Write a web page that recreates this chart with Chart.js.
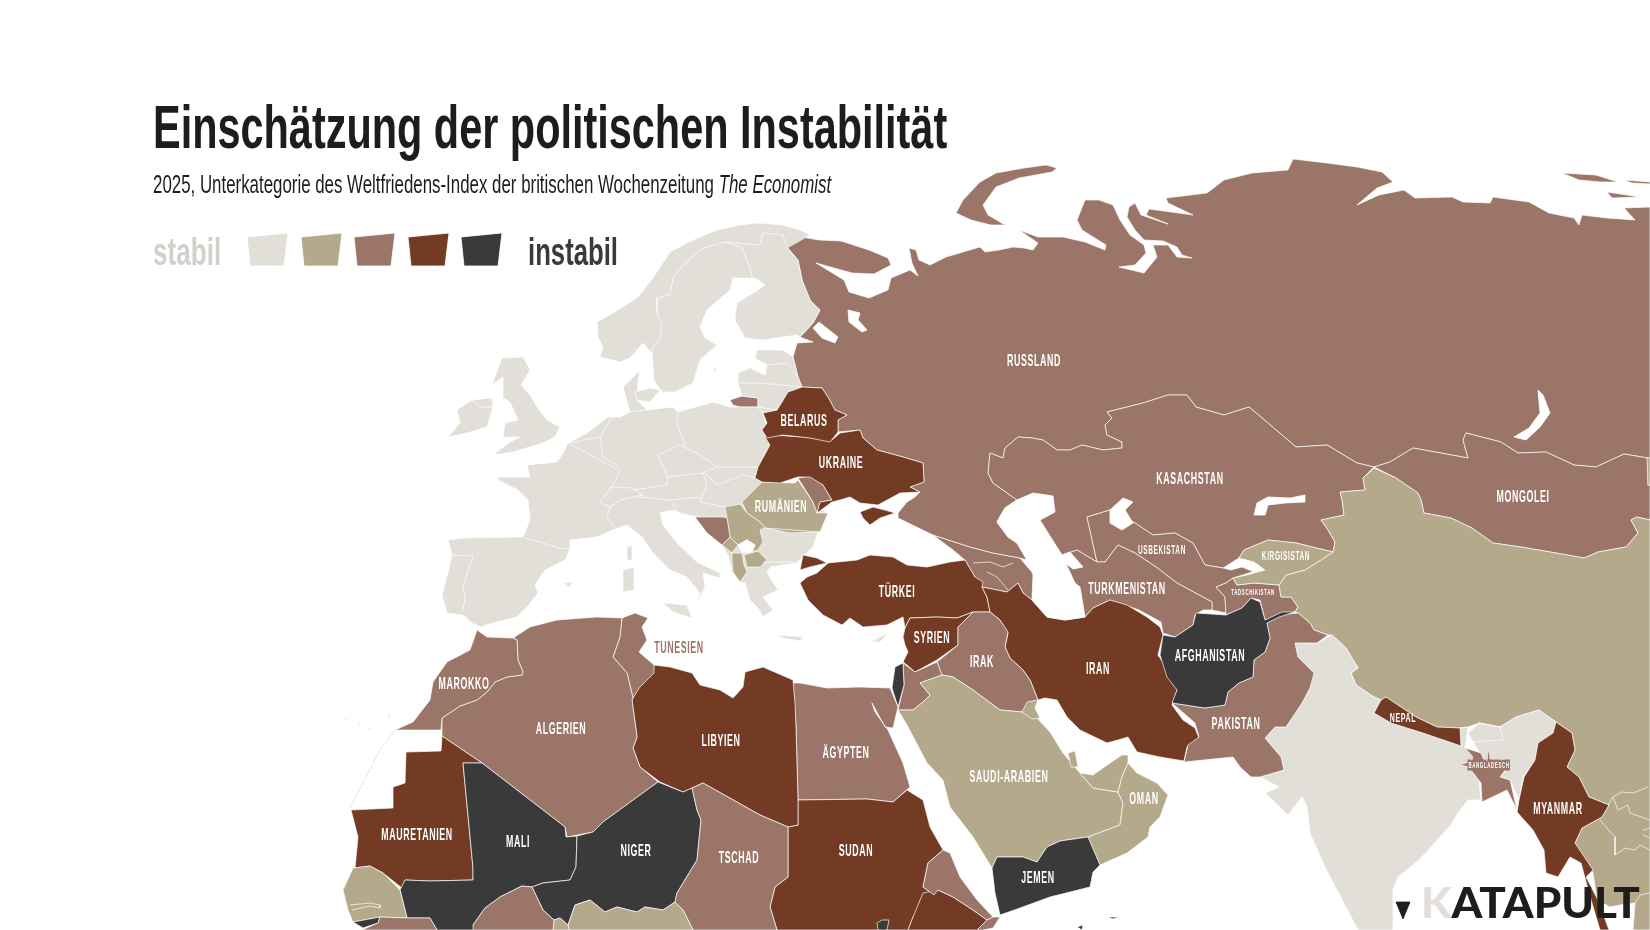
<!DOCTYPE html>
<html lang="de">
<head>
<meta charset="utf-8">
<title>Einschätzung der politischen Instabilität</title>
<script src="https://cdn.jsdelivr.net/npm/chart.js@4"></script>
<style>
  html, body { margin: 0; background: #fff; }
  #wrap { position: relative; width: 1650px; height: 930px; overflow: hidden; }
  #wrap canvas { position: absolute; left: 0; top: 0; }
  .txt { position: absolute; white-space: nowrap; transform-origin: left top; font-family: "Liberation Sans Narrow", "Liberation Sans", sans-serif; line-height: 1; }
  #title { left: 153px; top: 97px; font-size: 61px; font-weight: 700; color: #1d1d1b; }
  #sub { left: 153px; top: 172px; font-size: 25px; color: #1d1d1b; }
  #stabil { left: 153px; top: 233px; font-size: 38px; font-weight: 700; color: #d2d0cb; }
  #instabil { left: 528px; top: 233px; font-size: 38px; font-weight: 700; color: #3a3a3a; }
  #logo { left: 1421px; top: 881px; font-family: Lato, "Liberation Sans", sans-serif; font-size: 42px; font-weight: 900; color: #1d1d1b; }
  #logo span { color: #e2dfd8; }
</style>
</head>
<body>
<div id="wrap">
  <canvas id="map" width="1650" height="930"></canvas>
  <div class="txt" id="title">Einschätzung der politischen Instabilität</div>
  <div class="txt" id="sub">2025, Unterkategorie des Weltfriedens-Index der britischen Wochenzeitung <i>The Economist</i></div>
  <div class="txt" id="stabil">stabil</div>
  <div class="txt" id="instabil">instabil</div>
  <div class="txt" id="logo"><span>K</span>ATAPULT</div>
</div>
<script>
// outlines, in map units (x, y)
const russland = [[787,247],[802,237],[819,240],[841,241],[869,250],[888,258],[891,265],[874,274],[852,273],[816,263],[844,280],[849,292],[869,298],[888,290],[891,278],[910,270],[918,276],[912,263],[909,248],[916,250],[919,260],[930,265],[946,257],[980,247],[985,252],[999,250],[1013,247],[1024,248],[1033,250],[1038,243],[1019,230],[1038,237],[1063,237],[1085,242],[1105,250],[1106,245],[1082,230],[1077,220],[1085,200],[1099,200],[1113,205],[1120,220],[1130,235],[1144,245],[1146,253],[1135,265],[1119,267],[1144,273],[1157,257],[1153,245],[1168,245],[1177,257],[1192,258],[1182,255],[1177,247],[1163,241],[1144,240],[1135,230],[1127,217],[1129,207],[1135,203],[1141,215],[1168,224],[1146,215],[1149,209],[1193,215],[1168,203],[1166,198],[1207,193],[1224,180],[1252,173],[1288,170],[1293,159],[1327,163],[1357,167],[1382,172],[1393,182],[1377,188],[1357,205],[1379,195],[1404,190],[1415,198],[1452,197],[1463,202],[1490,203],[1493,197],[1529,202],[1549,213],[1574,218],[1579,225],[1582,215],[1607,218],[1635,220],[1624,208],[1650,207],[1650,458],[1648,458],[1624,454],[1596,467],[1574,465],[1546,452],[1518,453],[1501,442],[1466,433],[1463,440],[1468,458],[1435,452],[1413,448],[1390,462],[1374,467],[1357,463],[1327,445],[1296,447],[1268,423],[1249,407],[1224,415],[1196,407],[1187,395],[1168,395],[1143,403],[1107,412],[1112,418],[1105,425],[1107,435],[1122,442],[1122,448],[1103,450],[1082,445],[1070,450],[1057,450],[1043,440],[1032,438],[1018,437],[1005,448],[1003,458],[990,453],[988,473],[993,483],[1017,500],[1005,508],[997,522],[1008,537],[1017,543],[1027,560],[1020,558],[993,553],[970,547],[933,535],[898,518],[898,513],[907,502],[915,497],[920,492],[910,487],[924,482],[923,463],[903,457],[877,450],[863,438],[860,430],[838,432],[838,420],[847,415],[835,410],[828,397],[822,388],[802,387],[798,377],[793,357],[797,343],[813,342],[800,337],[813,323],[820,310],[810,300],[802,280],[798,260]];
const nowajaSemlja = [[1057,168],[1046,165],[1024,168],[996,173],[980,182],[963,200],[956,213],[971,220],[991,225],[1005,225],[988,215],[983,205],[996,187],[1019,178],[1052,172]];
const neusibirien = [[1562,173],[1596,175],[1618,182],[1601,182],[1579,180]];
const insel2 = [[1607,192],[1640,197],[1612,198]];
const insel3 = [[1624,180],[1650,182],[1650,184],[1632,183]];
const kaliningrad = [[730,400],[742,396],[758,398],[758,407],[740,407],[733,405]];
const kasachstan = [[1017,500],[993,483],[988,473],[990,453],[1003,458],[1005,448],[1018,437],[1032,438],[1043,440],[1057,450],[1070,450],[1082,445],[1103,450],[1122,448],[1122,442],[1107,435],[1105,425],[1112,418],[1107,412],[1143,403],[1168,395],[1187,395],[1196,407],[1224,415],[1249,407],[1268,423],[1296,447],[1327,445],[1357,463],[1374,467],[1363,478],[1365,490],[1340,492],[1342,500],[1344,515],[1321,520],[1328,530],[1335,542],[1333,552],[1296,543],[1268,540],[1244,550],[1239,558],[1223,568],[1205,565],[1193,543],[1175,533],[1153,535],[1135,523],[1110,510],[1087,517],[1097,562],[1077,550],[1062,555],[1040,520]];
const mongolei = [[1374,467],[1390,462],[1413,448],[1435,452],[1468,458],[1463,440],[1466,433],[1501,442],[1518,453],[1546,452],[1574,465],[1596,467],[1624,454],[1648,458],[1648,485],[1650,485],[1650,520],[1637,517],[1631,520],[1638,533],[1626,547],[1598,552],[1584,558],[1556,553],[1521,547],[1493,543],[1472,528],[1451,518],[1424,513],[1421,500],[1418,493],[1396,478]];
const usbekistan = [[1087,517],[1110,510],[1135,523],[1153,535],[1175,533],[1193,543],[1205,565],[1223,568],[1231,570],[1242,567],[1254,572],[1265,568],[1233,578],[1226,583],[1216,587],[1225,597],[1226,613],[1212,610],[1212,602],[1177,583],[1156,567],[1135,553],[1118,545],[1105,562],[1097,562]];
const turkmenistan = [[1062,555],[1077,550],[1097,562],[1105,562],[1118,545],[1135,553],[1156,567],[1177,583],[1212,602],[1212,610],[1203,610],[1195,615],[1193,625],[1175,637],[1163,633],[1161,622],[1139,610],[1116,602],[1110,600],[1093,608],[1085,617],[1075,583]];
const tadschikistan = [[1226,583],[1216,587],[1225,597],[1226,615],[1242,608],[1251,598],[1260,600],[1265,620],[1295,612],[1298,607],[1291,597],[1281,597],[1279,585],[1254,583],[1237,585],[1233,578]];
const kirgisistan = [[1244,550],[1268,540],[1296,543],[1333,552],[1321,560],[1305,570],[1286,575],[1279,585],[1254,583],[1237,585],[1233,578],[1247,575],[1265,570],[1254,562],[1239,558]];
const afghanistan = [[1196,613],[1226,615],[1242,608],[1251,598],[1260,602],[1265,620],[1282,612],[1295,612],[1279,617],[1267,623],[1270,638],[1265,652],[1254,660],[1253,677],[1239,683],[1228,692],[1225,705],[1205,708],[1172,703],[1177,690],[1167,677],[1160,655],[1163,635],[1175,637],[1193,625]];
const iran = [[982,587],[1007,592],[1018,583],[1023,593],[1032,600],[1047,617],[1065,620],[1085,617],[1093,608],[1110,600],[1127,605],[1147,617],[1160,627],[1163,635],[1158,655],[1170,673],[1177,690],[1172,705],[1183,720],[1195,728],[1199,738],[1187,747],[1184,761],[1160,757],[1137,752],[1128,737],[1118,740],[1107,743],[1080,730],[1067,717],[1057,700],[1045,698],[1038,700],[1030,680],[1023,670],[1010,658],[1005,647],[1008,633],[1000,620],[990,612],[987,597]];
const tuerkeiEuropa = [[800,570],[803,555],[817,558],[827,563],[810,567]];
const tuerkei = [[828,563],[857,560],[870,555],[893,557],[907,565],[927,567],[950,562],[965,560],[975,577],[983,582],[982,587],[987,597],[990,612],[973,612],[957,618],[937,617],[910,618],[905,628],[903,617],[887,625],[863,627],[850,618],[842,625],[823,615],[808,600],[800,583],[807,577],[817,573]];
const syrien = [[910,618],[937,617],[957,618],[973,612],[958,627],[958,645],[937,660],[915,672],[907,665],[903,662],[908,652],[905,645],[903,637],[905,628]];
const israel = [[895,667],[903,663],[904,685],[898,707],[892,688]];
const irak = [[958,627],[958,645],[937,662],[942,675],[953,677],[973,690],[1000,710],[1022,712],[1030,702],[1038,700],[1030,680],[1023,670],[1010,658],[1005,647],[1008,632],[1000,620],[990,612],[973,612]];
const jordanien = [[915,672],[937,662],[942,675],[920,683],[930,695],[923,702],[913,710],[898,710],[904,685],[903,663]];
const saudi = [[920,683],[942,675],[953,677],[973,690],[1000,710],[1022,712],[1037,718],[1050,732],[1063,753],[1080,773],[1093,788],[1118,792],[1123,803],[1120,825],[1088,837],[1060,841],[1047,847],[1037,862],[1023,857],[997,857],[992,868],[973,837],[950,807],[943,780],[927,763],[907,725],[898,710],[913,710],[923,702],[930,695]];
const kuwait = [[1022,712],[1027,702],[1038,700],[1035,708],[1040,718],[1032,719]];
const katar = [[1068,753],[1075,751],[1078,767],[1071,767]];
const vae = [[1080,773],[1093,775],[1110,763],[1122,755],[1128,755],[1128,763],[1122,777],[1118,792],[1093,788]];
const oman = [[1128,763],[1137,773],[1157,783],[1168,795],[1160,817],[1150,827],[1148,837],[1127,853],[1100,865],[1088,837],[1120,825],[1123,803],[1118,792],[1122,777]];
const jemen = [[1088,837],[1100,865],[1093,872],[1090,887],[1050,897],[1020,908],[1000,915],[995,893],[992,868],[997,857],[1023,857],[1037,862],[1047,847],[1060,841]];
const sokotra = [[1108,917],[1118,917],[1113,919]];
const sokotra2 = [[1077,927],[1083,925],[1082,930]];
const aegypten = [[793,683],[800,683],[827,688],[860,687],[890,688],[898,707],[893,728],[885,727],[872,703],[875,712],[888,730],[903,763],[910,787],[893,802],[867,799],[798,800],[796,727]];
const sudan = [[798,800],[867,799],[893,802],[907,790],[923,800],[930,827],[943,850],[928,863],[923,887],[934,895],[913,917],[908,930],[777,930],[770,907],[775,887],[788,877],[788,827],[798,825]];
const abyei = [[877,923],[882,920],[889,920],[887,930],[878,930]];
const aethiopien = [[938,890],[953,897],[973,910],[987,920],[977,930],[908,930],[913,917],[923,893]];
const eritrea = [[928,863],[943,850],[950,853],[960,877],[977,900],[993,917],[987,920],[973,910],[953,897],[938,890],[934,895],[923,887]];
const dschibuti = [[987,920],[993,917],[1000,917],[993,928],[983,930],[977,930]];
const libyen = [[654,665],[670,667],[692,673],[700,685],[720,690],[733,698],[743,687],[745,672],[763,667],[793,680],[795,703],[796,727],[798,800],[798,825],[788,827],[760,815],[703,783],[692,788],[683,792],[660,782],[640,767],[633,748],[637,737],[632,700],[640,683],[653,672]];
const tunesien = [[622,618],[635,613],[648,618],[642,627],[647,640],[639,652],[654,665],[654,673],[640,687],[633,698],[627,673],[613,657],[620,637]];
const algerien = [[513,638],[530,627],[557,620],[597,617],[622,618],[620,637],[613,657],[627,673],[633,698],[632,700],[637,737],[633,748],[640,767],[658,782],[640,795],[603,822],[593,832],[567,837],[565,827],[543,810],[482,763],[442,736],[442,718],[460,706],[477,700],[487,692],[495,682],[507,677],[522,675],[523,672],[518,660],[517,640]];
const marokko = [[477,630],[487,637],[513,638],[517,640],[518,660],[523,672],[522,675],[507,677],[495,682],[487,692],[477,700],[460,706],[442,718],[441,730],[395,730],[413,722],[430,700],[433,682],[447,662],[470,650]];
const mauretanien = [[442,736],[482,763],[463,763],[473,868],[473,880],[430,881],[405,880],[402,888],[383,873],[370,866],[355,868],[358,837],[351,810],[393,808],[393,787],[405,783],[406,752],[441,751]];
const mali = [[463,763],[482,763],[543,810],[565,827],[566,837],[577,836],[576,867],[570,880],[543,883],[532,887],[522,886],[500,897],[485,908],[473,925],[477,930],[437,930],[430,918],[407,918],[400,890],[405,880],[430,881],[473,880],[473,868]];
const niger = [[577,836],[593,832],[603,822],[640,795],[658,782],[683,792],[692,788],[697,810],[701,820],[697,860],[677,893],[675,902],[663,910],[645,907],[637,912],[617,907],[605,912],[590,900],[575,905],[568,925],[560,918],[554,920],[543,910],[532,887],[543,883],[570,880],[576,867]];
const tschad = [[692,788],[703,783],[760,815],[788,827],[788,877],[775,887],[770,907],[777,930],[693,930],[688,920],[683,910],[675,902],[677,893],[697,860],[701,820],[697,810]];
const nigeria = [[575,905],[590,900],[605,912],[617,907],[637,912],[645,907],[663,910],[675,902],[683,910],[688,920],[693,930],[569,930],[568,925]];
const benin = [[554,920],[560,918],[568,925],[569,930],[553,930]];
const burkina = [[532,887],[543,910],[554,920],[553,930],[473,930],[473,925],[485,908],[500,897],[522,886]];
const senegal = [[370,866],[383,873],[400,890],[407,918],[380,917],[353,922],[348,910],[343,890],[353,868]];
const bissau = [[353,922],[380,917],[378,923],[363,928]];
const guinea = [[380,917],[407,918],[430,918],[437,930],[362,930],[378,923]];
const norden = [[758,223],[783,225],[800,230],[810,235],[787,248],[798,260],[802,280],[810,300],[820,310],[813,323],[800,337],[797,335],[763,340],[745,338],[735,320],[737,303],[758,290],[765,285],[755,278],[733,278],[730,290],[707,310],[700,327],[705,338],[717,345],[700,360],[693,383],[675,392],[662,392],[654,380],[652,353],[643,343],[630,358],[620,362],[600,357],[603,347],[598,337],[597,322],[613,313],[637,298],[653,278],[670,252],[693,240],[717,230],[740,225]];
const baltikum = [[757,350],[783,350],[793,357],[798,377],[802,387],[788,392],[782,402],[777,410],[763,413],[758,407],[758,398],[742,396],[738,383],[738,373],[750,368],[765,375],[767,365],[755,358]];
const mitteleuropa = [[498,477],[530,477],[527,465],[557,462],[562,455],[568,443],[587,433],[608,417],[620,417],[630,412],[623,387],[640,370],[638,380],[637,400],[647,410],[673,407],[678,412],[713,402],[730,407],[758,407],[763,413],[767,430],[770,445],[758,467],[755,478],[762,482],[828,513],[818,532],[813,547],[802,557],[797,563],[770,567],[767,573],[778,590],[763,597],[773,610],[763,617],[758,608],[750,600],[745,583],[740,582],[732,572],[728,555],[722,545],[697,517],[680,513],[672,510],[660,513],[663,525],[677,543],[697,562],[720,573],[720,578],[703,573],[705,587],[697,603],[700,593],[687,577],[670,570],[653,553],[642,537],[627,525],[613,530],[597,537],[570,540],[570,549],[565,560],[545,570],[535,585],[538,593],[527,607],[517,617],[497,622],[480,627],[472,623],[463,615],[447,613],[442,595],[448,573],[452,555],[448,540],[463,538],[523,537],[530,520],[528,500],[518,490],[498,480]];
const sizilien = [[663,603],[687,605],[692,618],[673,612]];
const sardinien = [[623,570],[634,567],[634,590],[623,592]];
const korsika = [[627,547],[632,545],[632,560],[627,560]];
const kreta = [[777,635],[803,637],[800,641],[783,638]];
const zypern = [[870,642],[888,633],[880,642]];
const mallorca = [[563,583],[572,582],[570,587]];
const england = [[502,358],[523,357],[530,370],[521,385],[530,395],[537,407],[547,420],[560,427],[555,437],[543,443],[513,452],[493,455],[510,442],[520,437],[503,437],[505,423],[518,420],[510,402],[503,398],[503,377],[492,385]];
const irland = [[457,410],[472,400],[492,398],[493,407],[487,427],[467,433],[448,437],[460,423]];
const seeland = [[635,392],[650,388],[660,390],[650,402],[637,400]];
const gotland = [[713,370],[716,367],[715,373]];
const kanaren = [[345,718],[348,719],[346,721]];
const kanaren2 = [[358,723],[361,724],[359,726]];
const kanaren3 = [[368,727],[371,728],[369,730]];
const kanaren4 = [[389,713],[391,714],[388,720]];
const rumaenien = [[762,482],[795,483],[798,480],[813,502],[817,513],[828,513],[820,532],[790,533],[765,528],[760,522],[747,513],[742,502]];
const serbien = [[725,507],[740,504],[747,513],[760,522],[765,528],[760,530],[763,542],[758,550],[752,552],[755,545],[747,540],[738,545],[730,537],[727,518]];
const montenegro = [[722,545],[730,537],[738,545],[732,553]];
const albanien = [[732,553],[742,553],[744,565],[747,572],[740,582],[733,572],[732,562]];
const mazedonien = [[744,555],[758,551],[767,560],[760,567],[747,567]];
const bosnien = [[695,517],[723,517],[727,518],[730,537],[722,545],[707,533]];
const moldau = [[798,478],[810,476],[823,485],[832,500],[820,502],[817,513],[813,502]];
const ukraine = [[765,437],[770,445],[758,467],[755,478],[762,482],[780,483],[798,477],[810,477],[823,485],[832,500],[820,502],[817,513],[832,502],[840,500],[850,497],[860,503],[878,505],[900,493],[920,492],[910,487],[924,482],[923,463],[903,457],[877,450],[863,438],[860,430],[840,433],[832,440],[803,437],[770,435]];
const krim = [[860,512],[873,507],[885,510],[895,513],[880,518],[870,525],[863,518]];
const belarus = [[763,413],[777,410],[782,402],[788,392],[802,387],[822,388],[828,397],[835,410],[847,415],[838,420],[838,432],[830,442],[810,438],[783,435],[767,438],[762,430],[767,423]];
const kaukasus = [[933,535],[970,547],[993,553],[1020,558],[1030,570],[1037,573],[1032,600],[1023,593],[1018,583],[1007,592],[982,587],[975,577],[965,560],[953,550]];
const indien = [[1332,635],[1346,648],[1358,668],[1351,673],[1356,685],[1374,697],[1381,700],[1374,713],[1391,723],[1423,733],[1461,746],[1460,728],[1468,727],[1465,748],[1484,760],[1468,733],[1479,723],[1500,727],[1516,717],[1539,710],[1556,722],[1553,733],[1538,743],[1535,760],[1523,777],[1519,800],[1510,780],[1500,777],[1509,767],[1484,760],[1481,767],[1467,765],[1479,780],[1481,800],[1468,800],[1458,813],[1451,825],[1419,860],[1398,877],[1393,890],[1393,930],[1358,930],[1325,867],[1310,833],[1307,807],[1302,797],[1288,815],[1265,793],[1279,787],[1260,777],[1284,770],[1281,757],[1265,738],[1275,727],[1286,727],[1302,703],[1310,688],[1310,677],[1314,673],[1298,657],[1295,643],[1317,643]];
const pakistan = [[1172,703],[1205,708],[1225,705],[1228,692],[1239,683],[1253,677],[1254,660],[1265,652],[1270,638],[1267,623],[1279,615],[1298,613],[1310,623],[1314,630],[1328,635],[1317,643],[1295,643],[1298,657],[1314,673],[1310,688],[1302,703],[1286,727],[1275,727],[1265,738],[1281,757],[1284,770],[1260,777],[1251,777],[1240,767],[1233,757],[1184,762],[1188,745],[1199,737],[1195,723]];
const china = [[1374,468],[1396,478],[1418,493],[1421,500],[1424,513],[1451,518],[1472,528],[1493,543],[1521,547],[1556,553],[1584,558],[1598,552],[1626,547],[1638,533],[1631,520],[1637,517],[1650,520],[1650,930],[1633,930],[1635,903],[1620,905],[1610,907],[1597,900],[1593,873],[1575,843],[1582,828],[1602,817],[1609,805],[1589,797],[1579,777],[1567,767],[1575,750],[1572,733],[1556,722],[1539,710],[1516,717],[1500,727],[1479,723],[1468,727],[1460,728],[1437,727],[1416,717],[1386,697],[1381,700],[1374,697],[1356,685],[1351,673],[1358,668],[1346,648],[1332,635],[1328,635],[1314,630],[1310,623],[1298,613],[1295,612],[1298,607],[1291,597],[1281,597],[1279,585],[1286,575],[1305,570],[1321,560],[1333,552],[1335,542],[1328,530],[1321,520],[1344,515],[1342,500],[1340,492],[1365,490],[1363,478]];
const chinaRand = [[1647,458],[1650,458],[1650,485],[1648,485]];
const myanmar = [[1556,722],[1572,733],[1575,750],[1567,767],[1579,777],[1589,797],[1609,805],[1602,817],[1582,828],[1575,843],[1593,870],[1586,877],[1598,900],[1609,930],[1600,930],[1589,893],[1581,863],[1570,857],[1558,877],[1546,873],[1544,850],[1533,830],[1517,812],[1519,800],[1524,777],[1535,760],[1538,743],[1553,733]];
const bangladesch = [[1465,748],[1481,753],[1484,760],[1509,765],[1500,777],[1510,780],[1517,810],[1507,790],[1482,802],[1481,783],[1467,765],[1474,758]];
const nepal = [[1386,697],[1416,717],[1437,727],[1460,728],[1461,746],[1423,733],[1391,723],[1374,713],[1381,700]];

// water cut out of the land
const kaspisee = [[997,522],[1005,508],[1017,500],[1033,493],[1053,496],[1055,512],[1040,520],[1032,523],[1053,543],[1062,555],[1070,552],[1083,567],[1073,569],[1065,563],[1072,578],[1075,583],[1080,587],[1085,617],[1065,620],[1047,617],[1032,600],[1033,575],[1027,560],[1017,543],[1008,537]];
const aralsee = [[1110,510],[1123,498],[1133,502],[1125,510],[1133,523],[1122,530],[1110,523]];
const balchaschsee = [[1254,515],[1257,503],[1268,497],[1290,498],[1305,495],[1305,502],[1285,503],[1268,505],[1265,515]];
const baikalsee = [[1538,390],[1543,395],[1550,413],[1540,427],[1526,440],[1514,437],[1529,428],[1540,413]];
const ladogasee = [[813,328],[819,322],[838,337],[835,343],[822,338]];
const onegasee = [[848,310],[860,313],[858,320],[867,330],[862,332],[849,322]];
const kosovo = [[738,545],[747,540],[755,545],[752,552],[742,553]];

// inner borders where neighbours share a colour
const grenzen = [
  [[725,242],[703,248],[683,265],[673,278],[670,295],[657,298],[657,313],[662,325],[660,338],[653,347],[652,353]],
  [[725,242],[742,248],[750,267],[752,277]],
  [[725,242],[760,245],[763,233],[783,235],[787,248]],
  [[767,365],[787,363],[798,377]],
  [[738,383],[760,383],[783,385],[802,387]],
  [[758,407],[777,410]],
  [[452,555],[473,556],[468,570],[463,587],[465,600],[462,613]],
  [[525,538],[543,543],[558,548],[570,549]],
  [[568,443],[587,453],[605,463],[620,470],[613,485],[600,502]],
  [[610,487],[633,488],[643,495],[620,500],[610,507],[600,502]],
  [[610,507],[607,518],[615,528]],
  [[638,497],[670,500],[700,497]],
  [[672,502],[677,512]],
  [[612,417],[600,437],[603,457],[620,467]],
  [[678,412],[677,423],[685,445]],
  [[658,455],[680,445],[700,455],[717,467],[703,473],[668,477],[658,455]],
  [[633,490],[667,485],[668,477]],
  [[703,473],[707,485],[700,502],[725,507]],
  [[717,467],[750,467],[758,467]],
  [[705,473],[717,485],[743,475],[755,478]],
  [[568,443],[600,437]],
  [[763,562],[797,562]],
  [[765,528],[820,532]],
  [[630,412],[647,410]],
  [[472,400],[480,407],[492,407]],
  [[973,563],[990,562],[1003,567],[1013,563]],
  [[987,572],[997,577],[1008,590]],
  [[1608,805],[1613,797],[1622,792],[1633,793],[1648,787]],
  [[1613,797],[1618,810],[1628,805],[1630,813],[1650,820]],
  [[1600,820],[1607,828],[1615,837],[1615,855],[1625,848],[1635,850],[1640,845],[1650,850]],
  [[1643,830],[1650,828]],
  [[1643,835],[1650,838]],
  [[1635,903],[1640,895],[1650,893]],
  [[1468,733],[1479,723],[1500,727],[1503,740],[1472,742],[1468,733]],
  [[350,905],[370,903],[380,905],[380,908],[370,906],[352,910]]
];
const westsahara = [[395,730],[380,750],[363,783],[350,808]];

// legend shape and katapult mark
const legendeForm = [[0,4],[41,0],[37,33],[3,33]];
const legendeX = [247,301,354,408,461];
const legendeY = [233,233,233,233,233];
const dreieck = [[1396,902],[1410,902],[1403,919]];

// rating per outline: 0 stabil ... 4 instabil
const bewertung = [
  [kaukasus,2],[russland,2],[nowajaSemlja,2],[neusibirien,2],[insel2,2],[insel3,2],[kaliningrad,2],
  [kasachstan,2],[mongolei,2],[usbekistan,2],[turkmenistan,2],[tadschikistan,2],
  [china,1],[chinaRand,1],[kirgisistan,1],
  [norden,0],[baltikum,0],[mitteleuropa,0],[sizilien,0],[sardinien,0],[korsika,0],[kreta,0],[zypern,0],[mallorca,0],[england,0],[irland,0],[seeland,0],[gotland,0],[kanaren,0],[kanaren2,0],[kanaren3,0],[kanaren4,0],[indien,0],
  [rumaenien,1],[serbien,1],[montenegro,1],[albanien,1],[mazedonien,1],[bosnien,2],[moldau,2],
  [ukraine,3],[krim,3],[belarus,3],[tuerkei,3],[tuerkeiEuropa,3],[syrien,3],[iran,3],
  [irak,2],[jordanien,2],[pakistan,2],[afghanistan,4],[israel,4],
  [saudi,1],[kuwait,1],[katar,1],[vae,1],[oman,1],[jemen,4],[sokotra,4],[sokotra2,4],
  [aegypten,2],[sudan,3],[abyei,4],[aethiopien,3],[eritrea,2],[dschibuti,2],
  [libyen,3],[tunesien,2],[algerien,2],[marokko,2],[mauretanien,3],[mali,4],[niger,4],[tschad,2],
  [nigeria,1],[benin,1],[burkina,2],[senegal,1],[bissau,4],[guinea,2],
  [myanmar,3],[bangladesch,2],[nepal,3]
];
const gewaesser = [kaspisee,aralsee,balchaschsee,baikalsee,ladogasee,onegasee,kosovo];

// labels
const labelNamen = ["RUSSLAND","KASACHSTAN","MONGOLEI","BELARUS","UKRAINE","RUMÄNIEN","TÜRKEI","SYRIEN","IRAK","IRAN","AFGHANISTAN","PAKISTAN","TURKMENISTAN","USBEKISTAN","KIRGISISTAN","TADSCHIKISTAN","NEPAL","BANGLADESCH","MYANMAR","OMAN","SAUDI-ARABIEN","JEMEN","ÄGYPTEN","SUDAN","TSCHAD","NIGER","MALI","MAURETANIEN","ALGERIEN","LIBYIEN","MAROKKO","TUNESIEN"];
const labelX = [1034,1190,1523,804,841,781,897,932,982,1098,1210,1236,1127,1162,1286,1253,1403,1489,1558,1144,1009,1038,846,856,739,636,518,417,561,721,464,679];
const labelY = [361,479,497,421,463,507,592,638,662,669,656,724,589,551,557,593,718,766,809,799,777,878,753,851,858,851,842,835,729,741,684,648];
const labelGroesse = [17,17,17,17,17,17,17,17,17,17,17,17,17,12.5,12.5,8.5,13.5,8.5,17,17,17,17,17,17,17,17,17,17,17,17,17,17];

const farben = ["#e2dfd8","#b4a98a","#9a7568","#743b24","#3a3a3a"];

function flaeche(umriss, farbe, rand) {
  return {
    data: umriss.map(([x, y]) => ({ x, y })),
    polygon: true, backgroundColor: farbe, borderColor: rand, borderWidth: 0.8,
    showLine: false, pointRadius: 0
  };
}
function linie(punkte, farbe) {
  return {
    data: punkte.map(([x, y]) => ({ x, y })),
    borderColor: farbe, borderWidth: 0.8, showLine: true, pointRadius: 0, fill: false
  };
}

// bottom layer first, reversed below because Chart.js paints index 0 last
const ebenen = [
  ...bewertung.map(([umriss, stufe]) => flaeche(umriss, farben[stufe], "rgba(255,255,255,0.85)")),
  ...gewaesser.map(umriss => flaeche(umriss, "#ffffff", "#ffffff")),
  ...grenzen.map(g => linie(g, "rgba(255,255,255,0.85)")),
  linie(westsahara, "#e2dfd8"),
  ...legendeX.map((lx, i) => flaeche(legendeForm.map(([x, y]) => [lx + x, legendeY[i] + y]), farben[i], "#ffffff")),
  flaeche(dreieck, "#1d1d1b", "#1d1d1b")
];

const polygonPlugin = {
  id: "polygonPlugin",
  beforeDatasetDraw(chart, args) {
    const ds = chart.data.datasets[args.index];
    if (!ds.polygon) return;
    const ctx = chart.ctx;
    ctx.save();
    ctx.beginPath();
    args.meta.data.forEach((p, i) => { if (i === 0) ctx.moveTo(p.x, p.y); else ctx.lineTo(p.x, p.y); });
    ctx.closePath();
    ctx.fillStyle = ds.backgroundColor;
    ctx.fill();
    ctx.lineWidth = ds.borderWidth;
    ctx.strokeStyle = ds.borderColor;
    ctx.stroke();
    ctx.restore();
  }
};

const labelPlugin = {
  id: "labelPlugin",
  afterDatasetsDraw(chart) {
    const { ctx, scales } = chart;
    labelNamen.forEach((name, i) => {
      ctx.save();
      ctx.translate(scales.x.getPixelForValue(labelX[i]), scales.y.getPixelForValue(labelY[i]));
      ctx.scale(0.52, 1);
      ctx.font = '700 ' + labelGroesse[i] + 'px "Liberation Sans Narrow", "Liberation Sans", sans-serif';
      ctx.letterSpacing = "1.2px";
      ctx.textAlign = "center";
      ctx.textBaseline = "middle";
      if (name === "BANGLADESCH") {
        ctx.strokeStyle = farben[2];
        ctx.lineWidth = 5;
        ctx.strokeText(name, 0, 0);
      }
      ctx.fillStyle = name === "TUNESIEN" ? farben[2] : "#ffffff";
      ctx.fillText(name, 0, 0);
      ctx.restore();
    });
  }
};

new Chart(document.getElementById("map"), {
  type: "scatter",
  data: { datasets: ebenen.reverse() },
  options: {
    responsive: false,
    animation: false,
    events: [],
    layout: { padding: 0 },
    plugins: { legend: { display: false }, tooltip: { enabled: false } },
    scales: {
      x: { type: "linear", display: false, min: 0, max: 1650 },
      y: { type: "linear", display: false, min: 0, max: 930, reverse: true }
    }
  },
  plugins: [polygonPlugin, labelPlugin]
});

// squeeze the heading texts to the condensed widths of the original
[["title", 794], ["sub", 678], ["stabil", 68], ["instabil", 90], ["logo", 219]].forEach(([id, breite]) => {
  const el = document.getElementById(id);
  el.style.transform = "scaleX(" + breite / el.offsetWidth + ")";
});
</script>
</body>
</html>
